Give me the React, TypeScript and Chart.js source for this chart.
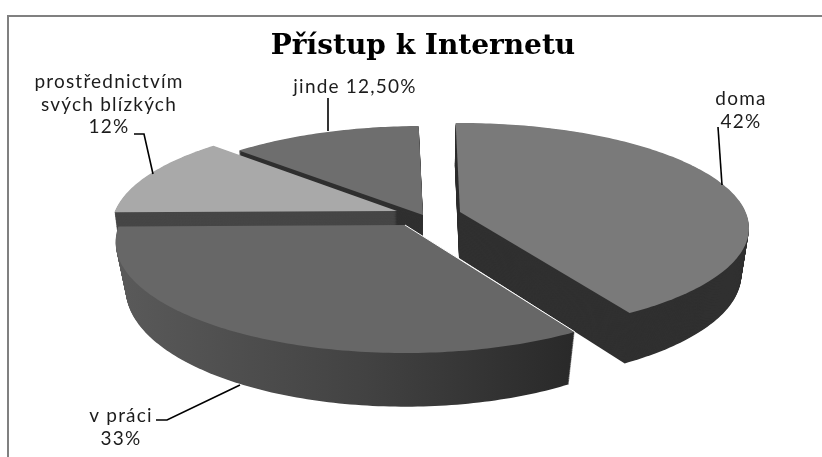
import React, { useEffect, useRef } from "react";
import { Chart, registerables } from "chart.js";

Chart.register(...registerables);

const categories = ["doma", "v práci", "prostřednictvím svých blízkých", "jinde"];
const shares = [41.6, 33.4, 12.4, 12.5];
const topColors = ["#7a7a7a", "#676767", "#a9a9a9", "#6e6e6e"];
const wallColors = ["#303030", "#484848", "#464646", "#303030"];
const titleText = "Přístup k Internetu";

// Perspective of the pie's plane: each slice has an apex (ax, ay) and radii (A, B) for its top and bottom faces.
const PERSPECTIVE = 0.1525;
const topFaces = [
  { ax: 460, ay: 212, A: 285.6, B: 102.6 },
  { ax: 405, ay: 225, A: 286, B: 108.5 },
  { ax: 397, ay: 211, A: 282, B: 104 },
  { ax: 423, ay: 215, A: 283, B: 102.6 },
];
const bottomFaces = [
  { ax: 459, ay: 258, A: 279, B: 107 },
  { ax: 405, ay: 271, A: 276, B: 115 },
  { ax: 397, ay: 257, A: 276, B: 108 },
  { ax: 422, ay: 261, A: 277, B: 107 },
];
const drawOrder = [3, 2, 0, 1];

const callouts = [
  { lines: ["doma", "42%"], cx: 741, baseline: 105, leader: [[718, 127], [722, 185]] },
  { lines: ["jinde 12,50%"], cx: 355, baseline: 93, leader: [[328, 98], [328, 131]] },
  { lines: ["prostřednictvím", "svých blízkých", "12%"], cx: 109, baseline: 88, leader: [[134, 134], [144, 134], [153, 174]] },
  { lines: ["v práci", "33%"], cx: 121, baseline: 422, leader: [[156, 420], [167, 420], [240, 385]] },
];

function lerpFace(a: any, b: any, t: number) {
  return {
    ax: a.ax + (b.ax - a.ax) * t,
    ay: a.ay + (b.ay - a.ay) * t,
    A: a.A + (b.A - a.A) * t,
    B: a.B + (b.B - a.B) * t,
  };
}

function project(face: any, angle: number, r = 1) {
  const x = Math.cos(angle) * r;
  const y = Math.sin(angle) * r;
  const w = 1 - PERSPECTIVE * y;
  return [face.ax + (face.A * x) / w, face.ay + (face.B * y) / w];
}

function sliceShape(ctx: CanvasRenderingContext2D, face: any, start: number, end: number) {
  ctx.beginPath();
  ctx.moveTo(face.ax, face.ay);
  const steps = Math.max(8, Math.ceil(((end - start) * 180) / Math.PI));
  for (let i = 0; i <= steps; i++) {
    const [px, py] = project(face, start + ((end - start) * i) / steps);
    ctx.lineTo(px, py);
  }
  ctx.closePath();
}

const pie3d = {
  id: "pie3d",
  beforeDraw(chart: any) {
    const { ctx, width, height } = chart;
    ctx.save();
    ctx.fillStyle = "#ffffff";
    ctx.fillRect(0, 0, width, height);
    ctx.strokeStyle = "#808080";
    ctx.lineWidth = 2;
    ctx.beginPath();
    ctx.moveTo(8, height);
    ctx.lineTo(8, 16);
    ctx.lineTo(width, 16);
    ctx.stroke();
    ctx.restore();
  },
  beforeDatasetsDraw(chart: any) {
    const { ctx } = chart;
    const arcs = chart.getDatasetMeta(0).data;
    ctx.save();
    for (const i of drawOrder) {
      const arc = arcs[i];
      const { startAngle, endAngle } = arc;
      let wall: any = wallColors[i];
      if (i === 1) {
        wall = ctx.createLinearGradient(115, 0, 573, 0);
        wall.addColorStop(0, "#5a5a5a");
        wall.addColorStop(0.55, "#424242");
        wall.addColorStop(1, "#292929");
      }
      ctx.fillStyle = wall;
      const layers = 60;
      for (let l = 0; l < layers; l++) {
        const face = lerpFace(bottomFaces[i], topFaces[i], l / layers);
        sliceShape(ctx, face, startAngle, endAngle);
        ctx.fill();
      }
      ctx.fillStyle = arc.options.backgroundColor;
      sliceShape(ctx, topFaces[i], startAngle, endAngle);
      ctx.fill();
      if (i === 1) {
        const [ex, ey] = project(topFaces[i], startAngle);
        ctx.strokeStyle = "#ffffff";
        ctx.lineWidth = 1;
        ctx.beginPath();
        ctx.moveTo(topFaces[i].ax, topFaces[i].ay);
        ctx.lineTo(ex, ey);
        ctx.stroke();
      }
    }
    ctx.restore();
    return false;
  },
  afterDraw(chart: any) {
    const { ctx } = chart;
    ctx.save();
    ctx.font = '19px Lato, sans-serif';
    (ctx as any).letterSpacing = "1.2px";
    ctx.textAlign = "center";
    ctx.textBaseline = "alphabetic";
    ctx.fillStyle = "#1c1c1c";
    ctx.strokeStyle = "#000000";
    ctx.lineWidth = 1.6;
    for (const c of callouts) {
      c.lines.forEach((line, n) => ctx.fillText(line, c.cx, c.baseline + n * 22.5));
      ctx.beginPath();
      c.leader.forEach(([x, y], n) => (n ? ctx.lineTo(x, y) : ctx.moveTo(x, y)));
      ctx.stroke();
    }
    (ctx as any).letterSpacing = "0px";
    ctx.restore();
  },
};

export default function App() {
  const ref = useRef<HTMLCanvasElement>(null);
  useEffect(() => {
    document.body.style.margin = "0";
    const chart = new Chart(ref.current!, {
      type: "pie",
      data: {
        labels: categories,
        datasets: [{ data: shares, backgroundColor: topColors, borderWidth: 0 }],
      },
      options: {
        responsive: false,
        animation: false,
        rotation: -1,
        layout: { padding: { left: 24 } },
        plugins: {
          legend: { display: false },
          tooltip: { enabled: false },
          title: {
            display: true,
            text: titleText,
            fullSize: false,
            color: "#000000",
            font: { family: "'DejaVu Serif', serif", size: 28, weight: "bold" },
            padding: { top: 30, bottom: 10 },
          },
        },
      },
      plugins: [pie3d],
    } as any);
    return () => chart.destroy();
  }, []);
  return <canvas ref={ref} width={822} height={457} style={{ display: "block" }} />;
}
